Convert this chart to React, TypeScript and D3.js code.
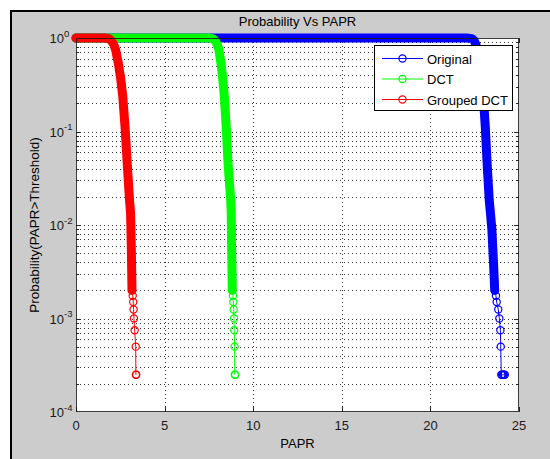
import React from 'react';
import * as d3 from 'd3';

// ---- data ----
const xTickValues = [0, 5, 10, 15, 20, 25];
const yTickExponents = [0, -1, -2, -3, -4];
const seriesNames = ['Original', 'DCT', 'Grouped DCT'];
const seriesColors = ['#0000ff', '#00ff00', '#ff0000'];

const originalPapr = [0, 22.05, 22.35, 22.48, 22.57, 22.65, 22.8, 22.9, 22.99, 23.1, 23.2, 23.32, 23.39, 23.47, 23.56, 23.63, 23.7, 23.74, 23.83, 23.89, 23.95, 23.97, 24.0, 24.05, 24.1, 24.15, 24.2];
const originalProb = [1, 1, 0.985, 0.93, 0.85, 0.744, 0.536, 0.37, 0.236, 0.11, 0.0457, 0.0185, 0.0133, 0.0089, 0.004, 0.002, 0.00175, 0.0015, 0.00125, 0.001, 0.00075, 0.0005, 0.00025, 0.00025, 0.00025, 0.00025, 0.00025];

const dctPapr = [0, 7.45, 7.72, 7.86, 7.97, 8.07, 8.18, 8.28, 8.37, 8.48, 8.58, 8.73, 8.76, 8.78, 8.82, 8.86, 8.88, 8.9, 8.92, 8.93, 8.95, 8.96, 8.98];
const dctProb = [1, 1, 0.985, 0.93, 0.85, 0.744, 0.536, 0.37, 0.236, 0.11, 0.0457, 0.0185, 0.0133, 0.006, 0.002, 0.00175, 0.0015, 0.00125, 0.001, 0.00075, 0.0005, 0.00025, 0.00025];

const groupedPapr = [0, 1.6, 1.87, 2.01, 2.13, 2.24, 2.39, 2.52, 2.64, 2.77, 2.89, 3.02, 3.08, 3.12, 3.16, 3.2, 3.23, 3.25, 3.27, 3.31, 3.37, 3.38, 3.4];
const groupedProb = [1, 1, 0.985, 0.93, 0.85, 0.744, 0.536, 0.37, 0.236, 0.11, 0.0457, 0.0185, 0.0133, 0.006, 0.002, 0.00175, 0.0015, 0.00125, 0.001, 0.00075, 0.0005, 0.00025, 0.00025];

const denseCutoff = 0.002;
const FONT = '"Liberation Sans", Arial, Helvetica, sans-serif';

export default function App() {
  const W = 550;
  const H = 459;
  const x = d3.scaleLinear().domain([0, 25]).range([76, 519]);
  const y = d3.scaleLog().domain([1e-4, 1]).range([412, 38]);
  const [x0, x1] = x.range();
  const [yb, yt] = y.range();

  const series = [
    { name: seriesNames[0], color: seriesColors[0], xs: originalPapr, ps: originalProb },
    { name: seriesNames[1], color: seriesColors[1], xs: dctPapr, ps: dctProb },
    { name: seriesNames[2], color: seriesColors[2], xs: groupedPapr, ps: groupedProb },
  ];

  const line = d3
    .line<[number, number]>()
    .x((d) => x(d[0]))
    .y((d) => y(d[1]));

  // minor / major y grid values
  const yGrid: number[] = [];
  for (let e = -4; e < 0; e++) {
    for (let m = 1; m <= 9; m++) {
      const v = m * Math.pow(10, e);
      if (v > 1e-4 && v < 1) yGrid.push(v);
    }
  }
  const majorY = yTickExponents.map((e) => Math.pow(10, e));

  return (
    <div style={{ position: 'absolute', left: 0, top: 0 }}>
      <svg width={W} height={H} style={{ display: 'block', fontFamily: FONT }}>
        <rect x={0} y={0} width={W} height={H} fill="#ffffff" />
        <rect x={10} y={10} width={W - 10} height={H - 10} fill="#cccccc" />
        <line x1={10} x2={W} y1={11} y2={11} stroke="#000" strokeWidth={2} />
        <line x1={11} x2={11} y1={10} y2={H} stroke="#000" strokeWidth={2} />

        {/* plot area */}
        <rect x={x0} y={yt} width={x1 - x0} height={yb - yt} fill="#ffffff" />

        {/* grid */}
        <g stroke="#333" strokeWidth={1} strokeDasharray="1,3">
          {yGrid.map((v, i) => (
            <line key={'hy' + i} x1={x0} x2={x1} y1={Math.round(y(v)) + 0.5} y2={Math.round(y(v)) + 0.5} />
          ))}
          {xTickValues.slice(1, -1).map((v) => (
            <line key={'vx' + v} x1={Math.round(x(v)) + 0.5} x2={Math.round(x(v)) + 0.5} y1={yt} y2={yb} />
          ))}
        </g>

        {/* ticks */}
        <g stroke="#262626" strokeWidth={1}>
          {xTickValues.map((v) => {
            const px = Math.round(x(v)) + 0.5;
            return (
              <g key={'xt' + v}>
                <line x1={px} x2={px} y1={yb} y2={yb - 5} />
                <line x1={px} x2={px} y1={yt} y2={yt + 5} />
              </g>
            );
          })}
          {yGrid.map((v, i) => {
            const py = Math.round(y(v)) + 0.5;
            const isMajor = majorY.some((m) => Math.abs(m - v) < 1e-12);
            const len = isMajor ? 5 : 3;
            return (
              <g key={'yt' + i}>
                <line x1={x0} x2={x0 + len} y1={py} y2={py} />
                <line x1={x1} x2={x1 - len} y1={py} y2={py} />
              </g>
            );
          })}
        </g>

        {/* series */}
        {series.map((s) => {
          const pts: [number, number][] = s.xs.map((v, i) => [v, s.ps[i]]);
          const dense = pts.filter((d) => d[1] >= denseCutoff);
          const tail = pts.filter((d) => d[1] <= denseCutoff);
          return (
            <g key={s.name}>
              <path d={line(dense) || ''} fill="none" stroke={s.color} strokeWidth={9} strokeLinecap="round" strokeLinejoin="round" />
              <path d={line(tail) || ''} fill="none" stroke={s.color} strokeWidth={1} />
              {tail.map((d, i) => (
                <circle key={i} cx={x(d[0])} cy={y(d[1])} r={3.6} fill="none" stroke={s.color} strokeWidth={1.2} />
              ))}
            </g>
          );
        })}

        {/* axes box */}
        <rect x={x0 + 0.5} y={yt + 0.5} width={x1 - x0 - 1} height={yb - yt - 1} fill="none" stroke="#1a1a1a" strokeOpacity={0.85} strokeWidth={1} />

        {/* x tick labels */}
        <g fontSize={13} fill="#1a1a1a" textAnchor="middle">
          {xTickValues.map((v) => (
            <text key={'xl' + v} x={x(v)} y={yb + 18}>
              {v}
            </text>
          ))}
        </g>

        {/* y tick labels */}
        <g fill="#1a1a1a">
          {yTickExponents.map((e) => {
            const py = y(Math.pow(10, e));
            return (
              <g key={'yl' + e}>
                <text x={64} y={py + 5} fontSize={13} textAnchor="end">
                  10
                </text>
                <text x={64} y={py - 1.5} fontSize={9.5} textAnchor="start">
                  {e}
                </text>
              </g>
            );
          })}
        </g>

        {/* title and labels */}
        <text x={(x0 + x1) / 2} y={26} fontSize={13} textAnchor="middle" fill="#000">
          Probability Vs PAPR
        </text>
        <text x={(x0 + x1) / 2} y={448} fontSize={13} textAnchor="middle" fill="#000">
          PAPR
        </text>
        <text transform={`translate(39,${(yt + yb) / 2}) rotate(-90)`} fontSize={13.5} textAnchor="middle" fill="#000">
          Probability(PAPR&gt;Threshold)
        </text>

        {/* legend */}
        <rect x={374.5} y={45.5} width={138} height={65} fill="#ffffff" stroke="#000" strokeWidth={1} />
        {series.map((s, i) => {
          const ly = 58.5 + i * 20.5;
          return (
            <g key={'lg' + s.name}>
              <line x1={382} x2={423} y1={ly} y2={ly} stroke={s.color} strokeWidth={1} />
              <circle cx={402.5} cy={ly} r={3.6} fill="none" stroke={s.color} strokeWidth={1.2} />
              <text x={427} y={ly + 5} fontSize={13} fill="#000">
                {s.name}
              </text>
            </g>
          );
        })}
      </svg>
    </div>
  );
}
